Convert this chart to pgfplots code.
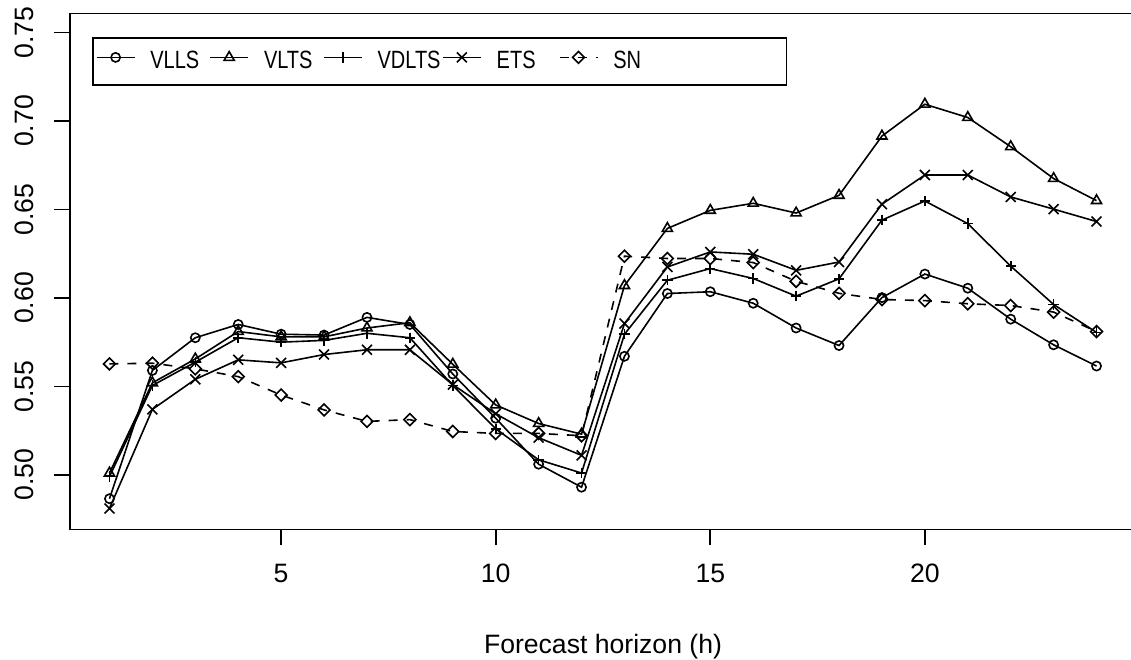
\documentclass[border=0pt]{standalone}
\usepackage{fontspec}
\setmainfont{Liberation Sans}
\newfontfamily\legfont[FakeStretch=0.8]{Liberation Sans}
\usepackage{pgfplots}
\pgfplotsset{compat=1.18}

% forecast accuracy by horizon, one column per model
\pgfplotstableread{
h  vlls   vlts   vdlts  ets    sn
1  0.4865 0.5010 0.4990 0.4810 0.5627
2  0.5590 0.5520 0.5505 0.5370 0.5631
3  0.5775 0.5655 0.5637 0.5540 0.5599
4  0.5850 0.5810 0.5775 0.5650 0.5555
5  0.5795 0.5780 0.5750 0.5633 0.5451
6  0.5790 0.5780 0.5760 0.5680 0.5367
7  0.5890 0.5830 0.5800 0.5707 0.5302
8  0.5850 0.5860 0.5775 0.5707 0.5312
9  0.5570 0.5625 0.5505 0.5510 0.5245
10 0.5320 0.5395 0.5260 0.5345 0.5234
11 0.5060 0.5290 0.5085 0.5210 0.5234
12 0.4930 0.5230 0.5010 0.5110 0.5221
13 0.5670 0.6070 0.5795 0.5855 0.6236
14 0.6025 0.6393 0.6100 0.6175 0.6223
15 0.6035 0.6495 0.6166 0.6260 0.6223
16 0.5970 0.6535 0.6110 0.6247 0.6200
17 0.5830 0.6480 0.6010 0.6156 0.6094
18 0.5731 0.6580 0.6108 0.6203 0.6026
19 0.6002 0.6915 0.6440 0.6530 0.5991
20 0.6135 0.7095 0.6548 0.6695 0.5985
21 0.6055 0.7020 0.6420 0.6695 0.5967
22 0.5880 0.6855 0.6180 0.6571 0.5957
23 0.5735 0.6675 0.5963 0.6502 0.5920
24 0.5615 0.6550 0.5805 0.6432 0.5810
}\acc

\begin{document}
\begin{tikzpicture}
\begin{axis}[
  name=ax,
  scale only axis,
  width=533bp, height=257.9bp,
  xmin=0.08, xmax=24.92, ymin=0.4692, ymax=0.7608,
  xtick={5,10,15,20},
  ytick={0.50,0.55,0.60,0.65,0.70,0.75},
  scaled y ticks=false,
  tick pos=left, tick align=outside,
  major tick length=8bp,
  every tick/.style={black, line width=0.8bp},
  axis line style={line width=0.8bp},
  font=\fontsize{13.3bp}{16bp}\selectfont,
  /pgf/number format/assume math mode=true,
  yticklabel style={xshift=-10bp, rotate=90, anchor=south, inner sep=0pt,
    /pgf/number format/fixed, /pgf/number format/fixed zerofill,
    /pgf/number format/precision=2},
  xticklabel style={yshift=-9bp, anchor=north, inner sep=0pt},
  xlabel={Forecast horizon (h)},
  xlabel style={at={(axis description cs:0.5,0)}, anchor=base, yshift=-62bp, inner sep=0pt},
  every axis plot/.append style={black, line width=0.8bp},
  legend columns=5,
  legend style={at={(axis description cs:0,1)}, anchor=north west,
    xshift=11bp, yshift=-11.75bp, draw=black, line width=0.8bp,
    inner xsep=1.5bp, inner ysep=6.25bp, column sep=0pt,
    nodes={inner xsep=0pt, inner ysep=0pt, text height=9.2bp, text depth=1.9bp},
    font=\legfont\fontsize{12.5bp}{15bp}\selectfont},
  legend image code/.code={
    \draw[mark repeat=2, mark phase=2] plot coordinates {(0bp,2bp) (9.5bp,2bp) (19bp,2bp)};
    \path (26.5bp,2bp);
  },
]
\addplot[mark=o, mark size=2.3bp] table[x=h, y=vlls] {\acc};
\addlegendentry{\makebox[29.5bp][l]{VLLS}}
\addplot[mark=triangle, mark size=2.9bp] table[x=h, y=vlts] {\acc};
\addlegendentry{\makebox[29.5bp][l]{VLTS}}
\addplot[mark=+, mark size=2.6bp] table[x=h, y=vdlts] {\acc};
\addlegendentry{\makebox[32.25bp][l]{VDLTS}}
\addplot[mark=x, mark size=3.5bp] table[x=h, y=ets] {\acc};
\addlegendentry{\makebox[31bp][l]{ETS}}
\addplot[dash pattern=on 4.5bp off 4.5bp, mark=square, mark size=2.1bp,
  mark options={solid, rotate=45}] table[x=h, y=sn] {\acc};
\addlegendentry{\makebox[85bp][l]{SN}}
\end{axis}
\pgfresetboundingbox
\path[use as bounding box] ([shift={(-35bp,-65.35bp)}]ax.south west)
  rectangle ([shift={(-2.5bp,6.75bp)}]ax.north east);
\end{tikzpicture}
\end{document}
